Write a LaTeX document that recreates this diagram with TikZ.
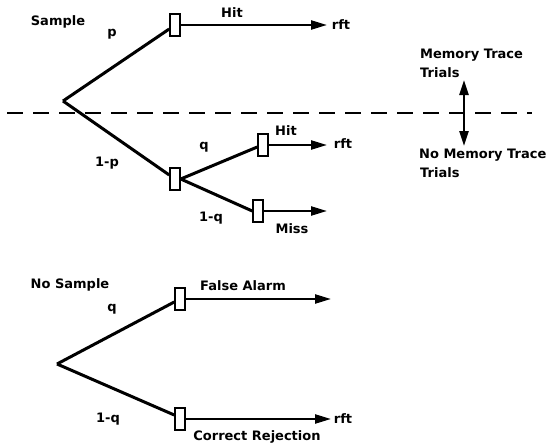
\documentclass[tikz,border=0pt]{standalone}
\usepackage{fontspec}
\setmainfont{DejaVu Sans}
\usetikzlibrary{arrows.meta}
\begin{document}
\begin{tikzpicture}[x=1pt,y=-1pt,
 lbl/.style={font=\bfseries\fontsize{13}{15}\selectfont, inner sep=0pt, anchor=base},
 lblw/.style={lbl, anchor=base west},
 box/.style={draw, line width=1.5pt, minimum width=10pt, minimum height=22pt, inner sep=0pt, fill=white},
 branch/.style={line width=3pt},
 arr/.style={line width=2.3pt, -{Triangle[length=16pt,width=9pt]}},
]
\useasboundingbox (0,0) rectangle (550,447);

% ---------- top tree ----------
\coordinate (r1) at (63,101);
\node[box] (b1) at (175,25) {};
\node[box] (b2) at (175,179) {};
\node[box] (b3) at (263,145) {};
\node[box] (b4) at (258,211) {};
\coordinate (e1) at (327,25);
\coordinate (e3) at (327,145);
\coordinate (e4) at (327,211);
\draw[branch] (r1) -- ([yshift=-4pt]b1.west);
\draw[branch] (r1) -- ([yshift=4pt]b2.west);
\draw[branch] (b2.east) -- ([yshift=-2pt]b3.west);
\draw[branch] (b2.east) -- (b4.west);
\draw[arr] (b1.east) -- (e1);
\draw[arr] (b3.east) -- (e3);
\draw[arr] (b4.east) -- (e4);

\node[lbl] (tsample) at (58,26) {Sample};
\node[lbl] (tp) at (112,36) {p};
\node[lbl] (thit1) at (232,17) {Hit};
\node[lbl] (trft1) at (341,29) {rft};
\node[lbl] (t1p) at (107,166) {1-p};
\node[lbl] (tq1) at (204,149) {q};
\node[lbl] (thit2) at (286,135) {Hit};
\node[lbl] (trft2) at (343,148) {rft};
\node[lbl] (t1q1) at (211,221) {1-q};
\node[lbl] (tmiss) at (292,233) {Miss};

% ---------- divider ----------
\coordinate (d1) at (7,113);
\coordinate (d2) at (532,113);
\draw[line width=2.3pt, dash pattern=on 16pt off 10pt] (d1) -- (d2);
\coordinate (v1) at (464,80);
\coordinate (v2) at (464,146);
\draw[line width=2.3pt, {Triangle[length=15pt,width=9pt]}-{Triangle[length=15pt,width=9pt]}] (v1) -- (v2);
\node[lblw] (tmt) at (420,58) {Memory Trace};
\node[lblw] (tmt2) at (420,77) {Trials};
\node[lblw] (tnmt) at (419,158) {No Memory Trace};
\node[lblw] (tnmt2) at (420,177) {Trials};

% ---------- bottom tree ----------
\coordinate (r2) at (57,364);
\node[box] (b5) at (180,299) {};
\node[box] (b6) at (180,419) {};
\coordinate (e5) at (331,299);
\coordinate (e6) at (331,419);
\draw[branch] (r2) -- ([yshift=-3pt]b5.west);
\draw[branch] (r2) -- ([yshift=4pt]b6.west);
\draw[arr] (b5.east) -- (e5);
\draw[arr] (b6.east) -- (e6);

\node[lbl] (tnosample) at (70,288) {No Sample};
\node[lbl] (tq2) at (112,311) {q};
\node[lbl] (tfa) at (243,290) {False Alarm};
\node[lbl] (t1q2) at (108,422) {1-q};
\node[lbl] (trft3) at (343,423) {rft};
\node[lbl] (tcr) at (257,440) {Correct Rejection};
\end{tikzpicture}
\end{document}
